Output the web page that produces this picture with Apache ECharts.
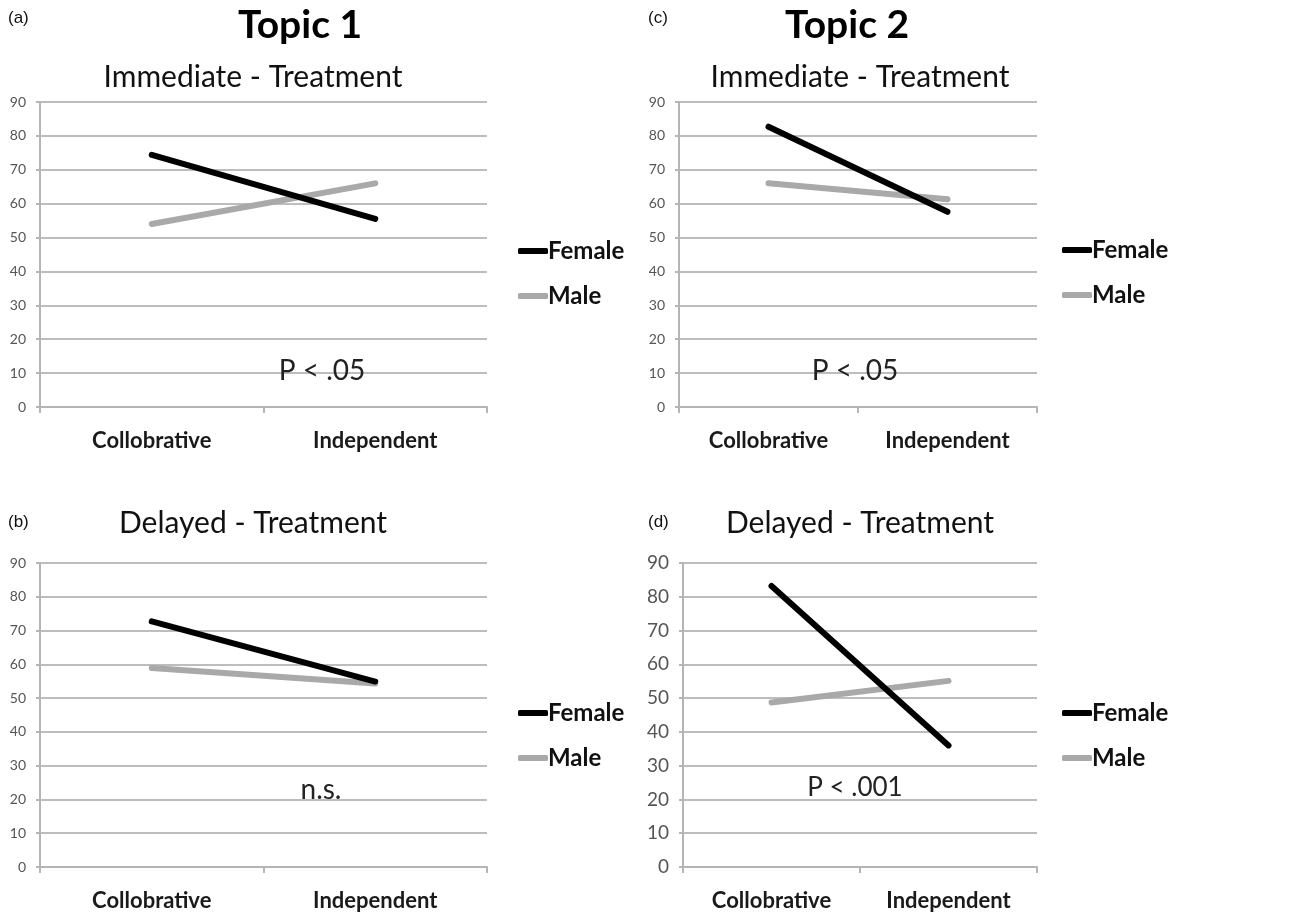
<!DOCTYPE html>
<html><head><meta charset="utf-8">
<script src="https://cdn.jsdelivr.net/npm/echarts@6/dist/echarts.min.js"></script>
<style>html,body{margin:0;padding:0;background:#fff}#c{width:1292px;height:915px}</style>
</head><body><div id="c"></div>
<script>
const categories = ['Collobrative', 'Independent'];
const yTicks = [0, 90, 10];
const seriesNames = ['Female', 'Male'];
const femaleA = [74.4, 55.5];
const maleA = [54.0, 66.0];
const femaleB = [72.7, 54.9];
const maleB = [58.9, 54.3];
const femaleC = [82.7, 57.6];
const maleC = [66.0, 61.3];
const femaleD = [83.2, 36.0];
const maleD = [48.7, 55.1];
const panelLabels = ['(a)', '(b)', '(c)', '(d)'];
const topicTitles = ['Topic 1', 'Topic 2'];
const subTitles = ['Immediate - Treatment', 'Delayed - Treatment', 'Immediate - Treatment', 'Delayed - Treatment'];
const annotations = ['P < .05', 'n.s.', 'P < .05', 'P < .001'];

const FONT = 'Lato, "Open Sans", sans-serif';
const grids = [
  {left: 40, top: 102, width: 447, height: 305},
  {left: 40, top: 563, width: 447, height: 304},
  {left: 679, top: 102, width: 358, height: 305},
  {left: 683, top: 563, width: 354, height: 304}
];
const yFont = [14, 14, 14, 19];
const dataSets = [[femaleA, maleA], [femaleB, maleB], [femaleC, maleC], [femaleD, maleD]];

const xAxes = grids.map((g, i) => ({
  type: 'category', gridIndex: i, data: categories, boundaryGap: true,
  axisLine: {lineStyle: {color: '#b5b5b5', width: 2}},
  axisTick: {show: true, length: 6, lineStyle: {color: '#b5b5b5', width: 2}},
  axisLabel: {fontFamily: FONT, fontWeight: 'bold', fontSize: 22, color: '#1a1a1a', margin: 23}
}));
const yAxes = grids.map((g, i) => ({
  type: 'value', gridIndex: i, min: yTicks[0], max: yTicks[1], interval: yTicks[2],
  axisLine: {show: true, lineStyle: {color: '#b5b5b5', width: 2}},
  axisTick: {show: true, length: 4, lineStyle: {color: '#b5b5b5', width: 2}},
  splitLine: {lineStyle: {color: '#bdbdbd', width: 2}},
  axisLabel: {fontFamily: FONT, fontSize: yFont[i], color: '#555', margin: 14}
}));
const series = [];
dataSets.forEach((ds, i) => {
  ds.forEach((vals, k) => {
    series.push({
      type: 'line', name: seriesNames[k], xAxisIndex: i, yAxisIndex: i, data: vals,
      symbol: 'none', silent: true, z: k === 0 ? 3 : 2,
      lineStyle: {color: k === 0 ? '#000' : '#a9a9a9', width: 6, cap: 'round'},
      itemStyle: {color: k === 0 ? '#000' : '#a9a9a9'}
    });
  });
});

const legendPos = [
  {left: 518, top: 239}, {left: 518, top: 701},
  {left: 1062, top: 238}, {left: 1062, top: 701}
];
const legends = legendPos.map(p => ({
  left: p.left, top: p.top, orient: 'vertical', itemGap: 21, padding: 0,
  itemWidth: 30, itemHeight: 6, icon: 'roundRect',
  data: [{name: 'Female', itemStyle: {color: '#000'}}, {name: 'Male', itemStyle: {color: '#a9a9a9'}}],
  textStyle: {fontFamily: FONT, fontWeight: 'bold', fontSize: 24, color: '#111', padding: [0, 0, 0, -5]},
  selectedMode: false
}));

const subPos = [[253, 77], [253, 523], [860, 77], [860, 523]];
const labPos = [[8, 18], [8, 522], [648, 18], [648, 522]];
const annPos = [[322, 371], [321, 790], [855, 371], [855, 788]];
const annFont = [28, 28, 28, 26];
const graphics = [];
subPos.forEach((p, i) => graphics.push({type: 'text', x: p[0], y: p[1], style: {text: subTitles[i], fontFamily: FONT, fontSize: 30, fill: '#111', align: 'center', verticalAlign: 'middle'}}));
labPos.forEach((p, i) => graphics.push({type: 'text', x: p[0], y: p[1], style: {text: panelLabels[i], fontFamily: '"Liberation Sans", Arial, sans-serif', fontSize: 17, fill: '#111', align: 'left', verticalAlign: 'middle'}}));
annPos.forEach((p, i) => graphics.push({type: 'text', x: p[0], y: p[1], z: 10, style: {text: annotations[i], fontFamily: FONT, fontSize: annFont[i], fill: '#222', align: 'center', verticalAlign: 'middle'}}));
graphics.push({type: 'text', x: 300, y: 25, style: {text: topicTitles[0], fontFamily: FONT, fontWeight: 'bold', fontSize: 39, fill: '#000', align: 'center', verticalAlign: 'middle'}});
graphics.push({type: 'text', x: 847, y: 25, style: {text: topicTitles[1], fontFamily: FONT, fontWeight: 'bold', fontSize: 39, fill: '#000', align: 'center', verticalAlign: 'middle'}});

const chart = echarts.init(document.getElementById('c'), null, {renderer: 'canvas'});
chart.setOption({
  animation: false,
  backgroundColor: '#fff',
  grid: grids,
  xAxis: xAxes,
  yAxis: yAxes,
  legend: legends,
  series: series,
  graphic: graphics
});
</script></body></html>
